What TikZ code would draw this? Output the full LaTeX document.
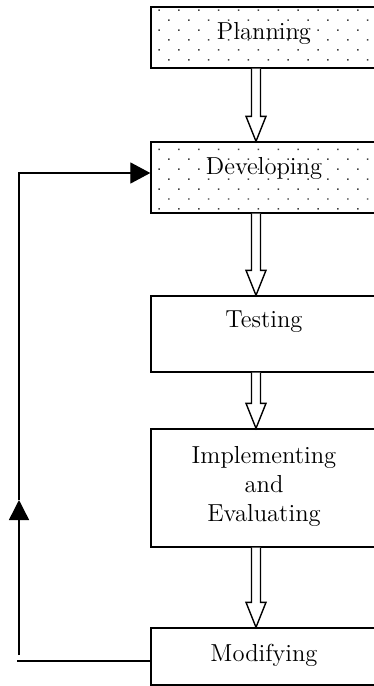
\documentclass[tikz,border=0pt]{standalone}
\usepackage{tikz}
\usetikzlibrary{positioning,calc,arrows.meta,patterns.meta}

\tikzset{
  stage/.style={draw, line width=0.8pt, minimum width=4.48cm, inner sep=0pt},
  dotted stage/.style={stage, pattern={Dots[distance=8pt, angle=45, radius=0.6pt]}, pattern color=black!75},
  stagetext/.style={font=\fontsize{14}{16.5}\selectfont, align=center, inner sep=0pt},
  loop line/.style={line width=0.8pt},
}

% hollow block arrow from one box to the next, along the column at x=256
\newcommand{\blockarrow}[2]{%
  \draw[line width=0.8pt, fill=white]
    ($(axis |- #1.south)+(-4.5,0)$) -- ($(axis |- #2.north)+(-4.5,-25)$)
    -- ($(axis |- #2.north)+(-10,-25)$) -- (axis |- #2.north)
    -- ($(axis |- #2.north)+(10,-25)$) -- ($(axis |- #2.north)+(4.5,-25)$)
    -- ($(axis |- #1.south)+(4.5,0)$);}

\begin{document}
\begin{tikzpicture}[x=0.02cm, y=-0.02cm]
    \useasboundingbox (0,0) rectangle (373,686);
    \coordinate (axis) at (256,0);

    % the five stages
    \node[dotted stage, minimum height=1.22cm] (plan) at (263,37.5) {};
    \node[stagetext] (plan-t) at (264,33) {Planning};

    \node[dotted stage, minimum height=1.42cm] (dev) at (263,177.5) {};
    \node[stagetext] (dev-t) at (264,168) {Developing};

    \node[stage, minimum height=1.52cm] (test) at (263,334) {};
    \node[stagetext] (test-t) at (264,322) {Testing};

    \node[stage, minimum height=2.36cm] (impl) at (263,488) {};
    \node[stagetext] (impl-t) at (264,486) {Implementing\\and\\Evaluating};

    \node[stage, minimum height=1.14cm] (mod) at (263,656.5) {};
    \node[stagetext] (mod-t) at (264,655) {Modifying};

    % arrows down the column
    \blockarrow{plan}{dev}
    \blockarrow{dev}{test}
    \blockarrow{test}{impl}
    \blockarrow{impl}{mod}

    % feedback loop back to developing
    \coordinate (fb-low) at (17,661);
    \coordinate (fb-start) at (19,655);
    \coordinate (fb-mid) at (19,500);
    \coordinate (fb-top) at (19,173);
    \draw[loop line] (mod.west |- fb-low) -- (fb-low);
    \draw[loop line, -{Triangle[length=11.4pt, width=11.4pt]}] (fb-start) -- (fb-mid);
    \draw[loop line, -{Triangle[length=11.4pt, width=12pt]}] (fb-mid) -- (fb-top) -- (fb-top -| dev.west);
\end{tikzpicture}
\end{document}
